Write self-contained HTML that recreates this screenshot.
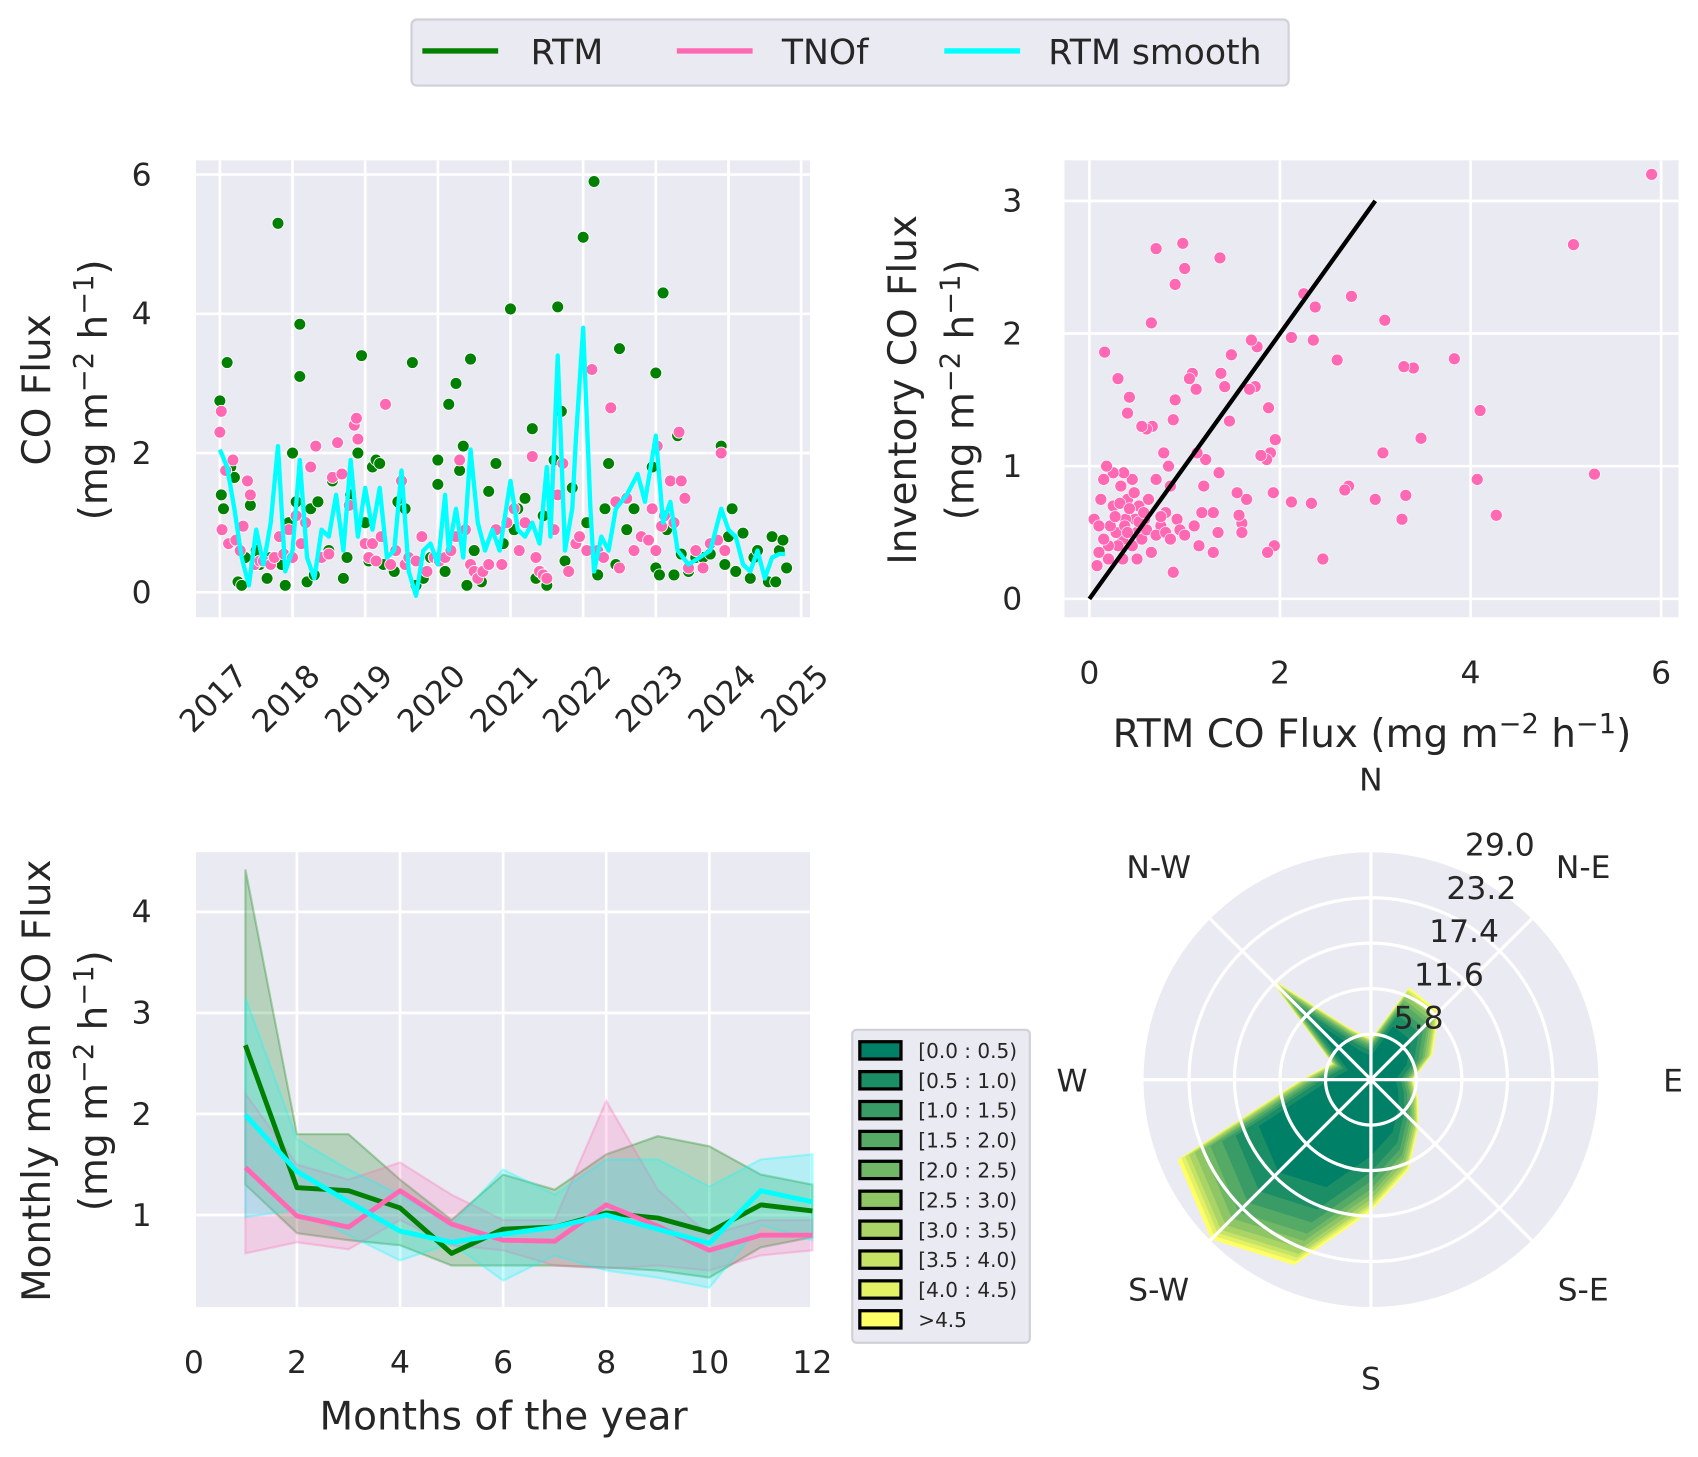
<!DOCTYPE html>
<html><head><meta charset="utf-8"><style>
html,body{margin:0;padding:0;background:#fff;}
svg{display:block;font-family:"DejaVu Sans","Liberation Sans",sans-serif;}
</style></head><body>
<svg id="fig" xmlns="http://www.w3.org/2000/svg" width="1698" height="1457" viewBox="0 0 1568 1345.5">
<g>
<rect x="380" y="18" width="810" height="61" rx="5" fill="#eaeaf2" stroke="#d0d0d8" stroke-width="2"/>
<line x1="390" y1="47" x2="460" y2="47" stroke="#008000" stroke-width="5"/>
<text x="490" y="59" font-size="32" fill="#262626">RTM</text>
<line x1="625" y1="47" x2="695" y2="47" stroke="#ff69b4" stroke-width="5"/>
<text x="722" y="59" font-size="32" fill="#262626">TNOf</text>
<line x1="872" y1="47" x2="942" y2="47" stroke="#00ffff" stroke-width="5"/>
<text x="968" y="59" font-size="32" fill="#262626">RTM smooth</text>
</g>
<g id="p1"></g>
<g id="p2"></g>
<g id="p3"></g>
<g id="p4"></g>
</svg>
<script>
// ---------- Panel 1 data ----------
const rtmTimes=[2017.0,2017.02,2017.05,2017.1,2017.15,2017.2,2017.25,2017.3,2017.35,2017.42,2017.5,2017.55,2017.65,2017.7,2017.8,2017.85,2017.9,2017.95,2018.0,2018.05,2018.1,2018.1,2018.2,2018.25,2018.3,2018.35,2018.5,2018.55,2018.7,2018.75,2018.8,2018.9,2018.95,2019.0,2019.05,2019.1,2019.15,2019.2,2019.25,2019.4,2019.45,2019.55,2019.65,2019.7,2019.8,2019.9,2020.0,2020.0,2020.1,2020.15,2020.25,2020.3,2020.35,2020.4,2020.45,2020.5,2020.6,2020.7,2020.8,2020.9,2021.0,2021.05,2021.1,2021.2,2021.3,2021.35,2021.45,2021.5,2021.6,2021.65,2021.7,2021.75,2021.85,2022.0,2022.05,2022.15,2022.2,2022.3,2022.35,2022.45,2022.5,2022.6,2022.7,2022.95,2023.0,2023.0,2023.05,2023.1,2023.15,2023.25,2023.3,2023.35,2023.45,2023.55,2023.65,2023.75,2023.9,2023.95,2024.0,2024.05,2024.1,2024.2,2024.3,2024.35,2024.4,2024.55,2024.6,2024.65,2024.7,2024.75,2024.8];
const rtmVals=[2.75,1.4,1.2,3.3,1.8,1.65,0.15,0.1,0.5,1.25,0.6,0.4,0.2,0.5,5.3,0.4,0.1,1.0,2.0,1.3,3.85,3.1,0.15,1.2,0.25,1.3,0.6,1.6,0.2,0.5,1.4,2.0,3.4,1.0,0.45,1.8,1.9,1.85,0.4,0.3,1.3,1.2,3.3,0.1,0.2,0.5,1.55,1.9,0.3,2.7,3.0,1.75,2.1,0.1,3.35,0.6,0.15,1.45,1.85,0.7,4.07,0.9,1.2,1.35,2.35,0.2,1.1,0.1,1.9,4.1,2.6,0.45,1.5,5.1,1.0,5.9,0.25,1.2,1.85,0.4,3.5,0.9,1.2,1.8,3.15,0.35,0.25,4.3,0.9,0.25,2.25,0.55,0.3,0.5,0.5,0.55,2.1,0.4,0.8,1.2,0.3,0.85,0.2,0.5,0.6,0.15,0.8,0.15,0.6,0.75,0.35];
const tnoTimes=[2017.0,2017.02,2017.03,2017.08,2017.12,2017.18,2017.22,2017.28,2017.32,2017.38,2017.42,2017.48,2017.55,2017.6,2017.7,2017.75,2017.82,2017.88,2017.95,2018.0,2018.05,2018.12,2018.18,2018.25,2018.32,2018.4,2018.5,2018.55,2018.62,2018.68,2018.78,2018.85,2018.88,2018.9,2019.0,2019.05,2019.1,2019.15,2019.22,2019.28,2019.35,2019.42,2019.5,2019.55,2019.6,2019.7,2019.78,2019.85,2019.95,2020.02,2020.1,2020.18,2020.25,2020.3,2020.38,2020.45,2020.5,2020.55,2020.62,2020.7,2020.8,2020.88,2020.95,2021.05,2021.12,2021.2,2021.3,2021.35,2021.4,2021.45,2021.5,2021.6,2021.65,2021.72,2021.8,2021.9,2021.95,2022.05,2022.12,2022.2,2022.28,2022.38,2022.45,2022.5,2022.6,2022.7,2022.8,2022.9,2022.95,2023.0,2023.02,2023.08,2023.12,2023.2,2023.25,2023.32,2023.35,2023.4,2023.45,2023.55,2023.65,2023.75,2023.85,2023.9,2023.95];
const tnoVals=[2.3,2.6,0.9,1.75,0.7,1.9,0.75,0.6,0.95,1.6,1.4,0.4,0.45,0.45,0.4,0.5,0.8,0.55,0.9,0.5,1.1,0.7,1.0,1.8,2.1,0.5,0.55,1.65,2.15,1.7,1.25,2.4,2.5,2.2,0.7,0.5,0.7,0.45,0.8,2.7,0.4,0.6,1.6,0.4,0.5,0.45,0.8,0.3,0.5,0.45,0.5,0.6,0.8,1.9,0.9,0.4,0.3,0.2,0.3,0.4,0.9,0.4,1.0,1.2,0.6,1.0,1.95,0.5,0.3,0.25,0.2,0.9,1.4,1.85,0.3,0.7,0.8,0.6,3.2,0.6,0.5,2.65,1.3,0.35,1.35,0.6,0.8,0.75,1.2,0.6,2.1,0.95,1.1,1.6,1.0,2.3,1.6,1.35,0.35,0.6,0.35,0.7,0.75,2.0,0.6];
const smoothTimes=[2017.0,2017.1,2017.2,2017.3,2017.4,2017.5,2017.6,2017.7,2017.8,2017.9,2018.0,2018.1,2018.2,2018.3,2018.4,2018.5,2018.6,2018.7,2018.8,2018.9,2019.0,2019.1,2019.2,2019.3,2019.4,2019.5,2019.6,2019.7,2019.8,2019.9,2020.0,2020.1,2020.15,2020.25,2020.35,2020.45,2020.55,2020.65,2020.75,2020.85,2021.0,2021.1,2021.2,2021.3,2021.4,2021.5,2021.55,2021.65,2021.75,2021.85,2021.9,2022.0,2022.1,2022.15,2022.25,2022.35,2022.45,2022.6,2022.75,2022.85,2023.0,2023.1,2023.2,2023.3,2023.45,2023.6,2023.75,2023.9,2024.0,2024.1,2024.2,2024.3,2024.4,2024.5,2024.6,2024.7,2024.78];
const smoothVals=[2.05,1.8,1.2,0.5,0.1,0.9,0.4,1.0,2.1,0.3,0.6,1.9,0.5,0.2,0.9,0.8,1.4,0.6,1.9,0.8,1.5,0.9,1.5,0.5,0.6,1.75,0.3,-0.05,0.6,0.7,0.4,1.4,0.6,1.2,0.5,2.05,1.0,0.6,0.9,0.6,1.6,0.9,0.8,1.0,0.7,1.8,0.8,3.4,0.6,1.2,2.2,3.8,1.2,0.3,0.8,0.6,1.2,1.4,1.7,1.3,2.25,1.0,1.3,0.6,0.4,0.5,0.6,1.2,0.9,0.8,0.4,0.3,0.6,0.2,0.5,0.55,0.55];
const p1YTicks=[0,2,4,6];
const p1XTicks=[2017,2018,2019,2020,2021,2022,2023,2024,2025];

// ---------- Panel 2 data ----------
const scatX=[5.9,5.08,5.3,4.1,4.07,4.27,3.83,3.48,3.4,3.3,3.32,3.28,3.1,3.08,3.0,2.75,2.72,2.68,2.6,2.45,2.37,2.35,2.33,2.25,2.12,2.12,1.95,1.93,1.94,1.9,1.88,1.86,1.87,1.8,1.76,1.74,1.7,1.68,1.65,1.6,1.57,1.6,1.55,1.49,1.47,1.42,1.38,1.37,1.36,1.35,1.3,1.3,1.22,1.2,1.18,1.12,1.13,1.08,1.05,0.98,1.0,0.9,0.88,0.9,0.85,0.83,0.8,0.75,0.78,0.7,0.65,0.66,0.7,0.6,0.58,0.55,0.52,0.5,0.48,0.45,0.42,0.4,0.4,0.38,0.36,0.35,0.33,0.3,0.28,0.3,0.25,0.22,0.2,0.18,0.16,0.15,0.12,0.1,0.08,0.05,0.1,0.2,0.25,0.45,0.5,0.55,0.6,0.62,0.65,0.7,0.75,0.8,0.85,0.92,0.95,1.0,0.88,1.1,1.15,0.27,0.32,0.37,0.42,0.47,0.52,0.57,0.15,0.35,0.4];
const scatY=[3.2,2.67,0.94,1.42,0.9,0.63,1.81,1.21,1.74,1.75,0.78,0.6,2.1,1.1,0.75,2.28,0.85,0.82,1.8,0.3,2.2,1.95,0.72,2.3,1.97,0.73,1.2,0.8,0.4,1.1,1.44,1.05,0.35,1.08,1.9,1.6,1.95,1.58,0.75,0.57,0.63,0.5,0.8,1.84,1.34,1.6,1.7,2.57,0.95,0.5,0.35,0.65,1.05,0.85,0.65,1.58,1.1,1.7,1.66,2.68,2.49,1.5,1.35,2.37,0.85,1.0,0.65,0.55,1.1,2.64,2.08,1.3,0.9,1.28,0.6,1.3,0.7,0.3,0.6,0.9,1.52,1.4,0.75,0.6,0.95,0.45,0.85,0.4,0.5,1.66,0.95,0.55,0.4,1.0,1.86,0.9,0.75,0.35,0.25,0.6,0.55,0.3,0.7,0.4,0.5,0.45,0.52,0.75,0.35,0.48,0.62,0.5,0.45,0.6,0.52,0.48,0.2,0.55,0.4,0.62,0.72,0.55,0.68,0.8,0.58,0.65,0.45,0.3,0.5];
const p2XTicks=[0,2,4,6];
const p2YTicks=[0,1,2,3];
const oneToOne=[0,3];

// ---------- Panel 3 data ----------
const months=[1,2,3,4,5,6,7,8,9,10,11,12];
const rtmMean=[2.68,1.27,1.24,1.07,0.62,0.86,0.88,1.02,0.97,0.83,1.1,1.04];
const rtmHi=[4.42,1.8,1.8,1.35,0.95,1.4,1.25,1.6,1.78,1.68,1.4,1.3];
const rtmLo=[1.3,0.82,0.75,0.7,0.5,0.5,0.5,0.48,0.45,0.38,0.68,0.78];
const tnoMean=[1.47,0.99,0.88,1.24,0.91,0.75,0.74,1.1,0.89,0.65,0.8,0.8];
const tnoHi=[2.2,1.5,1.35,1.52,1.2,0.95,0.95,2.13,1.25,0.8,0.95,0.95];
const tnoLo=[0.62,0.73,0.66,0.95,0.7,0.65,0.5,0.47,0.5,0.45,0.6,0.65];
const smMean=[1.99,1.43,1.13,0.84,0.73,0.81,0.88,1.0,0.86,0.72,1.24,1.13];
const smHi=[3.15,1.75,1.45,1.2,0.9,1.45,1.2,1.55,1.55,1.28,1.55,1.6];
const smLo=[0.98,1.05,0.8,0.55,0.72,0.35,0.6,0.45,0.38,0.28,0.9,0.75];
const p3XTicks=[0,2,4,6,8,10,12];
const p3YTicks=[1,2,3,4];

// ---------- Panel 4 data ----------
const dirAngles=[0,22.5,45,67.5,90,112.5,135,157.5,180,202.5,225,247.5,270,292.5,315,337.5];
const dirTotals=[5.2,12.7,12.3,8.5,5.4,6.5,8.6,12.5,16.8,25.6,28.8,26.7,8.9,5.4,18.7,7.1];
const binShares=[0.58,0.12,0.07,0.06,0.04,0.04,0.03,0.02,0.02,0.02];
const binLabels=["[0.0 : 0.5)","[0.5 : 1.0)","[1.0 : 1.5)","[1.5 : 2.0)","[2.0 : 2.5)","[2.5 : 3.0)","[3.0 : 3.5)","[3.5 : 4.0)","[4.0 : 4.5)",">4.5"];
const rTicks=[5.8,11.6,17.4,23.2,29.0];
const dirNames=["N","N-E","E","S-E","S","S-W","W","N-W"];

const NS="http://www.w3.org/2000/svg";
function mk(tag,attrs,parent,txt){const e=document.createElementNS(NS,tag);for(const k in attrs)e.setAttribute(k,attrs[k]);if(txt!==undefined)e.textContent=txt;parent.appendChild(e);return e;}
const TXT="#262626";
const TICK=29, TITLE=36;
// units label with real superscripts
function units(t,prefix){
  t.appendChild(document.createTextNode(prefix+'(mg m'));
  mk('tspan',{dy:-13,'font-size':TITLE*0.7},t,'−2');
  mk('tspan',{dy:13},t,' h');
  mk('tspan',{dy:-13,'font-size':TITLE*0.7},t,'−1');
  mk('tspan',{dy:13},t,')');
}

// ===== Panel 1 =====
(function(){
const g=document.getElementById('p1');
const X=t=>203+(t-2017)*67.1, Y=v=>547-v*64.3;
const bg=mk('rect',{x:181,y:148,width:567,height:422,fill:'#eaeaf2'},g);


p1YTicks.forEach(v=>{mk('line',{x1:181,x2:748,y1:Y(v),y2:Y(v),stroke:'#fff','stroke-width':2.5},g);
 const t=mk('text',{x:140,y:Y(v)+10,'font-size':TICK,fill:TXT,'text-anchor':'end'},g,String(v));
 
 });
p1XTicks.forEach(v=>{mk('line',{x1:X(v),x2:X(v),y1:148,y2:570,stroke:'#fff','stroke-width':2.5},g);
 const cx=X(v)-6, cy=645;
 const t=mk('text',{x:cx,y:cy+10,'font-size':TICK,fill:TXT,'text-anchor':'middle',transform:`rotate(-45 ${cx} ${cy})`},g,String(v));
 
 });
rtmTimes.forEach((t,i)=>{const c=mk('circle',{cx:X(t),cy:Y(rtmVals[i]),r:5.5,fill:'#008000',stroke:'#fff','stroke-width':0.8},g);
 
 });
tnoTimes.forEach((t,i)=>{const c=mk('circle',{cx:X(t),cy:Y(tnoVals[i]),r:5.5,fill:'#ff69b4',stroke:'#fff','stroke-width':0.8},g);
 
 });
const pl=mk('polyline',{points:smoothTimes.map((t,i)=>X(t)+','+Y(smoothVals[i])).join(' '),fill:'none',stroke:'#00ffff','stroke-width':4,'stroke-linejoin':'round'},g);


const a=mk('text',{x:0,y:0,'font-size':TITLE,fill:TXT,'text-anchor':'middle',transform:'translate(46 360) rotate(-90)'},g,'CO Flux');


const b=mk('text',{x:0,y:0,'font-size':TITLE,fill:TXT,'text-anchor':'middle',transform:'translate(99 360) rotate(-90)'},g);
units(b,'');


})();

// ===== Panel 2 =====
(function(){
const g=document.getElementById('p2');
const X=v=>1006+v*88, Y=v=>553-v*122.5;
const bg=mk('rect',{x:983,y:148,width:567,height:422,fill:'#eaeaf2'},g);


p2YTicks.forEach(v=>{mk('line',{x1:983,x2:1550,y1:Y(v),y2:Y(v),stroke:'#fff','stroke-width':2.5},g);
 const t=mk('text',{x:944,y:Y(v)+10,'font-size':TICK,fill:TXT,'text-anchor':'end'},g,String(v));
 
 });
p2XTicks.forEach(v=>{mk('line',{x1:X(v),x2:X(v),y1:148,y2:570,stroke:'#fff','stroke-width':2.5},g);
 const t=mk('text',{x:X(v),y:631,'font-size':TICK,fill:TXT,'text-anchor':'middle'},g,String(v));
 
 });
scatX.forEach((x,i)=>{const c=mk('circle',{cx:X(x),cy:Y(scatY[i]),r:5.5,fill:'#ff69b4',stroke:'#fff','stroke-width':0.6},g);
 
 });
const l=mk('line',{x1:X(oneToOne[0]),y1:Y(oneToOne[0]),x2:X(oneToOne[1]),y2:Y(oneToOne[1]),stroke:'#000','stroke-width':4},g);


const xt=mk('text',{x:1267,y:690,'font-size':TITLE,fill:TXT,'text-anchor':'middle'},g);
units(xt,'RTM CO Flux ');


const a=mk('text',{x:0,y:0,'font-size':TITLE,fill:TXT,'text-anchor':'middle',transform:'translate(846 360) rotate(-90)'},g,'Inventory CO Flux');


const b=mk('text',{x:0,y:0,'font-size':TITLE,fill:TXT,'text-anchor':'middle',transform:'translate(899 360) rotate(-90)'},g);
units(b,'');


})();

// ===== Panel 3 =====
(function(){
const g=document.getElementById('p3');
const X=v=>179+v*47.6, Y=v=>1122-(v-1)*93.3;
const bg=mk('rect',{x:181,y:787,width:567,height:420,fill:'#eaeaf2'},g);


p3YTicks.forEach(v=>{mk('line',{x1:181,x2:748,y1:Y(v),y2:Y(v),stroke:'#fff','stroke-width':2.5},g);
 const t=mk('text',{x:140,y:Y(v)+10,'font-size':TICK,fill:TXT,'text-anchor':'end'},g,String(v));
 
 });
p3XTicks.forEach(v=>{ if(v>0&&v<12) mk('line',{x1:X(v),x2:X(v),y1:787,y2:1207,stroke:'#fff','stroke-width':2.5},g);
 const t=mk('text',{x:X(v),y:1268,'font-size':TICK,fill:TXT,'text-anchor':'middle'},g,String(v));
 
 });
function band(lo,hi,col,name){const pts=months.map((m,i)=>X(m)+','+Y(hi[i])).concat(months.slice().reverse().map((m,j)=>{const i=months.length-1-j;return X(m)+','+Y(lo[i]);}));
 const p=mk('polygon',{points:pts.join(' '),fill:col,'fill-opacity':0.22,stroke:col,'stroke-opacity':0.3,'stroke-width':2},g);
 
 }
band(rtmLo,rtmHi,'#008000','rtm-band');
band(tnoLo,tnoHi,'#ff69b4','tnof-band');
band(smLo,smHi,'#00ffff','smooth-band');
function line(v,col,name){const p=mk('polyline',{points:months.map((m,i)=>X(m)+','+Y(v[i])).join(' '),fill:'none',stroke:col,'stroke-width':4.5,'stroke-linejoin':'round'},g);
 
 }
line(rtmMean,'#008000','rtm-monthly-line');
line(tnoMean,'#ff69b4','tnof-monthly-line');
line(smMean,'#00ffff','smooth-monthly-line');
const xt=mk('text',{x:465,y:1320,'font-size':TITLE,fill:TXT,'text-anchor':'middle'},g,'Months of the year');


const a=mk('text',{x:0,y:0,'font-size':TITLE,fill:TXT,'text-anchor':'middle',transform:'translate(46 998) rotate(-90)'},g,'Monthly mean CO Flux');


const b=mk('text',{x:0,y:0,'font-size':TITLE,fill:TXT,'text-anchor':'middle',transform:'translate(99 998) rotate(-90)'},g);
units(b,'');


})();

// ===== Panel 4 (windrose) =====
(function(){
const g=document.getElementById('p4');
const cx=1266, cy=997, R=210, rmax=29.0;
const rs=v=>v/rmax*R;
const col=i=>{const x=i/9;return `rgb(${Math.round(255*x)},${Math.round(255*(0.5+x/2))},102)`;};
const bg=mk('circle',{cx:cx,cy:cy,r:R,fill:'#eaeaf2'},g);


for(let b=binShares.length-1;b>=0;b--){
 const cum=binShares.slice(0,b+1).reduce((a,c)=>a+c,0);
 const pts=dirAngles.map((a,i)=>{const r=rs(dirTotals[i]*cum), th=a*Math.PI/180;return (cx+r*Math.sin(th)).toFixed(1)+','+(cy-r*Math.cos(th)).toFixed(1);});
 const p=mk('polygon',{points:pts.join(' '),fill:col(b)},g);
 
 
}
rTicks.slice(0,4).forEach(v=>{mk('circle',{cx:cx,cy:cy,r:rs(v),fill:'none',stroke:'#fff','stroke-width':3},g);});
for(let k=0;k<8;k++){const th=k*45*Math.PI/180;mk('line',{x1:cx,y1:cy,x2:cx+R*Math.sin(th),y2:cy-R*Math.cos(th),stroke:'#fff','stroke-width':3},g);}
const rlab=[[1310,950],[1338,910],[1352,870],[1368,830],[1385,790]];
rTicks.forEach((v,i)=>{const t=mk('text',{x:rlab[i][0],y:rlab[i][1],'font-size':TICK,fill:TXT,'text-anchor':'middle'},g,v.toFixed(1));
 
 });
const dpos=[[1266,730],[1462,811],[1545,1008],[1462,1201],[1266,1283],[1070,1201],[990,1008],[1070,811]];
dirNames.forEach((n,i)=>{const t=mk('text',{x:dpos[i][0],y:dpos[i][1],'font-size':TICK,fill:TXT,'text-anchor':'middle'},g,n);
 
 });
const lg=mk('g',{},g);


mk('rect',{x:787,y:951,width:164,height:289,rx:4,fill:'#eaeaf2',stroke:'#d0d0d8','stroke-width':2},lg);
binLabels.forEach((s,i)=>{const y=970+i*27.6;
 mk('rect',{x:794,y:y-8,width:38,height:16,fill:col(i),stroke:'#000','stroke-width':3},lg);
 const t=mk('text',{x:848,y:y+7,'font-size':18.5,fill:TXT},lg,s);
 
 });
})();
</script>
</body></html>
